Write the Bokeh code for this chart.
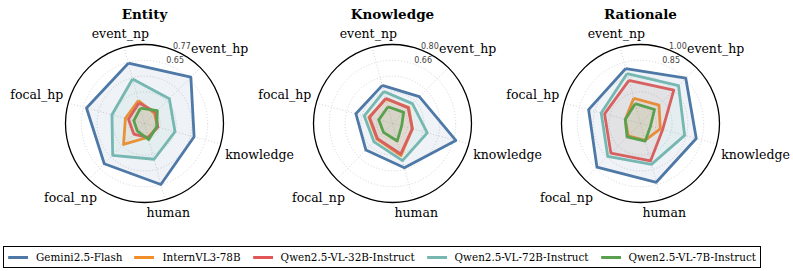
import math
from bokeh.plotting import figure
from bokeh.models import Range1d, Legend, LegendItem
from bokeh.core.properties import value
from bokeh.embed import file_html
from bokeh.resources import INLINE

# ---------------- data ----------------
categories = ["event_np", "event_hp", "knowledge", "human", "focal_np", "focal_hp"]
panels = ["Entity", "Knowledge", "Rationale"]
models = ["Gemini2.5-Flash", "InternVL3-78B", "Qwen2.5-VL-32B-Instruct",
          "Qwen2.5-VL-72B-Instruct", "Qwen2.5-VL-7B-Instruct"]
colors = ["#4e79a7", "#f28e2b", "#e15759", "#76b7b2", "#59a14f"]

# radial axis limits (center value, outer value) and labelled ticks
r_min = [0.17, 0.10, 0.25]
r_max = [0.77, 0.80, 1.00]
tick_values = [[0.65, 0.77], [0.66, 0.80], [0.85, 1.00]]

entity_gemini = [0.644, 0.668, 0.560, 0.650, 0.602, 0.626]
entity_intern = [0.350, 0.278, 0.272, 0.278, 0.395, 0.320]
entity_q32 = [0.332, 0.290, 0.275, 0.281, 0.284, 0.296]
entity_q72 = [0.520, 0.437, 0.410, 0.451, 0.512, 0.426]
entity_q7 = [0.290, 0.308, 0.266, 0.296, 0.248, 0.254]

knowledge_gemini = [0.450, 0.436, 0.681, 0.506, 0.433, 0.436]
knowledge_intern = [0.324, 0.303, 0.282, 0.394, 0.296, 0.317]
knowledge_q32 = [0.331, 0.296, 0.282, 0.380, 0.289, 0.310]
knowledge_q72 = [0.394, 0.349, 0.419, 0.441, 0.331, 0.359]
knowledge_q7 = [0.254, 0.240, 0.184, 0.261, 0.212, 0.226]

rationale_gemini = [0.790, 0.858, 0.798, 0.828, 0.835, 0.760]
rationale_intern = [0.498, 0.498, 0.445, 0.415, 0.415, 0.400]
rationale_q32 = [0.674, 0.697, 0.468, 0.618, 0.648, 0.603]
rationale_q72 = [0.741, 0.760, 0.684, 0.652, 0.690, 0.636]
rationale_q7 = [0.445, 0.438, 0.348, 0.423, 0.430, 0.400]

scores = [
    [entity_gemini, entity_intern, entity_q32, entity_q72, entity_q7],
    [knowledge_gemini, knowledge_intern, knowledge_q32, knowledge_q72, knowledge_q7],
    [rationale_gemini, rationale_intern, rationale_q32, rationale_q72, rationale_q7],
]

# ---------------- layout ----------------
W, H = 793, 271
centers_x = [144, 392, 640]
center_y = 123
R = 79
ring_fracs = [0.2, 0.4, 0.6, 0.8]
angles = [math.radians(105 - 60 * i) for i in range(len(categories))]

SERIF = "DejaVu Serif"
char_w = {"a": .596, "c": .560, "d": .640, "e": .592, "f": .370, "g": .640, "h": .644,
          "k": .608, "l": .320, "m": .948, "n": .644, "o": .602, "p": .640, "t": .402,
          "u": .644, "v": .564, "w": .836, "_": .5}
LABEL_PX = 12.5


def text_width(s, size):
    return sum(char_w.get(ch, 0.6) for ch in s) * size


p = figure(width=W, height=H, x_range=Range1d(0, W), y_range=Range1d(H, 0),
           output_backend="svg", toolbar_location=None, min_border=0,
           x_axis_location=None, y_axis_location=None)
p.grid.visible = False
p.outline_line_color = None
p.background_fill_color = "white"
p.border_fill_color = "white"

legend_renderers = [[] for _ in models]

for k, panel in enumerate(panels):
    cx = centers_x[k]
    span = r_max[k] - r_min[k]

    # grid rings
    for f in ring_fracs:
        p.circle(x=cx, y=center_y, radius=f * R, fill_color=None,
                 line_color="#c8c8c8", line_width=0.8, line_dash="1 2")
    # spokes
    p.segment(x0=[cx] * len(angles), y0=[center_y] * len(angles),
              x1=[cx + R * math.cos(t) for t in angles],
              y1=[center_y - R * math.sin(t) for t in angles],
              line_color="#c8c8c8", line_width=0.8, line_dash="1 2")

    # series
    for m, vals in enumerate(scores[k]):
        fr = [(v - r_min[k]) / span for v in vals]
        xs = [cx + R * f * math.cos(t) for f, t in zip(fr, angles)]
        ys = [center_y - R * f * math.sin(t) for f, t in zip(fr, angles)]
        p.patch(xs, ys, fill_color=colors[m], fill_alpha=0.09, line_color=None)
        ln = p.line(xs + [xs[0]], ys + [ys[0]], line_color=colors[m],
                    line_width=2.8, line_join="round")
        legend_renderers[m].append(ln)

    # outer spine
    p.circle(x=cx, y=center_y, radius=R, fill_color=None,
             line_color="black", line_width=1.3)

    # radial tick labels
    ta = math.radians(64.5)
    tx, ty, tt = [], [], []
    for tv in tick_values[k]:
        rr = R * (tv - r_min[k]) / span + 7.8
        tx.append(cx + rr * math.cos(ta))
        ty.append(center_y - rr * math.sin(ta))
        tt.append(f"{tv:.2f}")
    p.text(x=tx, y=ty, text=tt, text_font=value("DejaVu Sans"), text_font_size="8px",
           text_color="#444444", text_align="center", text_baseline="middle")

    # category labels
    lx, ly = [], []
    for c, t in zip(categories, angles):
        rc = 86 + abs(math.cos(t)) * text_width(c, LABEL_PX) / 2
        lx.append(cx + rc * math.cos(t))
        ly.append(center_y - rc * math.sin(t))
    p.text(x=lx, y=ly, text=categories, text_font=value(SERIF),
           text_font_size=f"{LABEL_PX}px", text_color="black",
           text_align="center", text_baseline="middle")

    # title
    p.text(x=[cx], y=[13], text=[panel], text_font=value(SERIF),
           text_font_style="bold", text_font_size="13.5px", text_color="black",
           text_align="center", text_baseline="alphabetic")

legend = Legend(
    items=[LegendItem(label=name, renderers=legend_renderers[m]) for m, name in enumerate(models)],
    orientation="horizontal", location=(3, 3), margin=0, padding=4, spacing=12,
    glyph_width=20, glyph_height=12, label_height=12, label_standoff=8,
    label_text_font=SERIF, label_text_font_size="10.4px", label_text_color="black",
    border_line_color="black", border_line_width=1.3, border_line_alpha=1.0,
    background_fill_color="white", background_fill_alpha=1.0,
)
p.add_layout(legend, "center")

open("out.html", "w").write(file_html(p, INLINE))
